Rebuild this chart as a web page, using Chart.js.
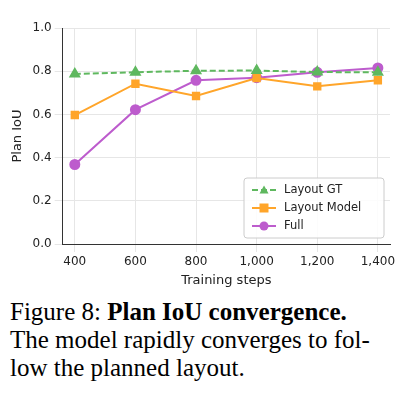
<!DOCTYPE html>
<html><head><meta charset="utf-8">
<script src="https://cdn.jsdelivr.net/npm/chart.js@4"></script>
<style>
body{margin:0;background:#fff;width:404px;height:414px;overflow:hidden}
#wrap{position:absolute;left:0;top:0;width:404px;height:290px}
#cap{position:absolute;left:10px;top:298px;width:394px;font-family:"Liberation Serif",serif;font-size:25px;line-height:28px;color:#000}
</style></head><body>
<div id="wrap"><canvas id="c" width="404" height="290"></canvas></div>
<div id="cap">Figure 8: <b>Plan IoU convergence.</b><br>The model rapidly converges to fol-<br>low the planned layout.</div>
<script>
const steps=[400,600,800,1000,1200,1400];
const layoutGT=[0.787,0.795,0.802,0.803,0.796,0.795];
const layoutModel=[0.597,0.742,0.685,0.768,0.73,0.758];
const full=[0.368,0.622,0.758,0.77,0.795,0.815];
const yTicks=[0,0.2,0.4,0.6,0.8,1.0];
const font="'DejaVu Sans',sans-serif";
const pts=v=>v.map((y,i)=>({x:steps[i],y}));
const legendPlugin={id:'inlegend',afterDraw(ch){
 const c=ch.ctx,a=ch.chartArea;const x0=a.right-146,y0=a.bottom-66,w=140,h=60;
 c.save();c.fillStyle='rgba(255,255,255,0.85)';c.strokeStyle='#ccc';c.lineWidth=1;
 c.beginPath();c.roundRect(x0,y0,w,h,3);c.fill();c.stroke();
 ch.data.datasets.forEach((d,i)=>{const y=y0+12+i*18;
  c.strokeStyle=d.borderColor;c.lineWidth=2;c.setLineDash(d.borderDash||[]);
  c.beginPath();c.moveTo(x0+8,y);c.lineTo(x0+32,y);c.stroke();c.setLineDash([]);
  c.fillStyle=d.borderColor;const r=4.5,mx=x0+20;c.beginPath();
  if(d.pointStyle==='triangle'){c.moveTo(mx,y-r);c.lineTo(mx+r,y+r*0.8);c.lineTo(mx-r,y+r*0.8);c.closePath();}
  else if(d.pointStyle==='rect'){c.rect(mx-r,y-r,2*r,2*r);}else{c.arc(mx,y,r,0,Math.PI*2);}
  c.fill();c.fillStyle='#222';c.font="11.5px "+font;c.textBaseline='middle';c.fillText(d.label,x0+40,y);});
 c.restore();}};
new Chart(document.getElementById('c'),{type:'line',
data:{datasets:[
{label:'Layout GT',data:pts(layoutGT),borderColor:'#5fb85f',backgroundColor:'#5fb85f',borderDash:[6,3],pointStyle:'triangle',pointRadius:5,borderWidth:2},
{label:'Layout Model',data:pts(layoutModel),borderColor:'#ffa52a',backgroundColor:'#ffa52a',pointStyle:'rect',pointRadius:4.5,borderWidth:2},
{label:'Full',data:pts(full),borderColor:'#bd5ccd',backgroundColor:'#bd5ccd',pointStyle:'circle',pointRadius:4.5,borderWidth:2}]},
options:{responsive:false,animation:false,layout:{padding:{left:6,right:14,top:28,bottom:2}},
plugins:{legend:{display:false},tooltip:{enabled:false}},
scales:{x:{type:'linear',min:360,max:1440,afterBuildTicks(ax){ax.ticks=steps.map(v=>({value:v}));},grid:{color:'#e6e6e6'},border:{color:'#333'},ticks:{color:'#222',font:{family:font,size:12}},title:{display:true,text:'Training steps',color:'#222',font:{family:font,size:13},padding:0}},
y:{min:0,max:1,afterBuildTicks(ax){ax.ticks=yTicks.map(v=>({value:v}));},grid:{color:'#e6e6e6'},border:{color:'#333'},ticks:{color:'#222',font:{family:font,size:12},callback:v=>v.toFixed(1)},title:{display:true,text:'Plan IoU',color:'#222',font:{family:font,size:13}}}}},
plugins:[legendPlugin]});
</script></body></html>
